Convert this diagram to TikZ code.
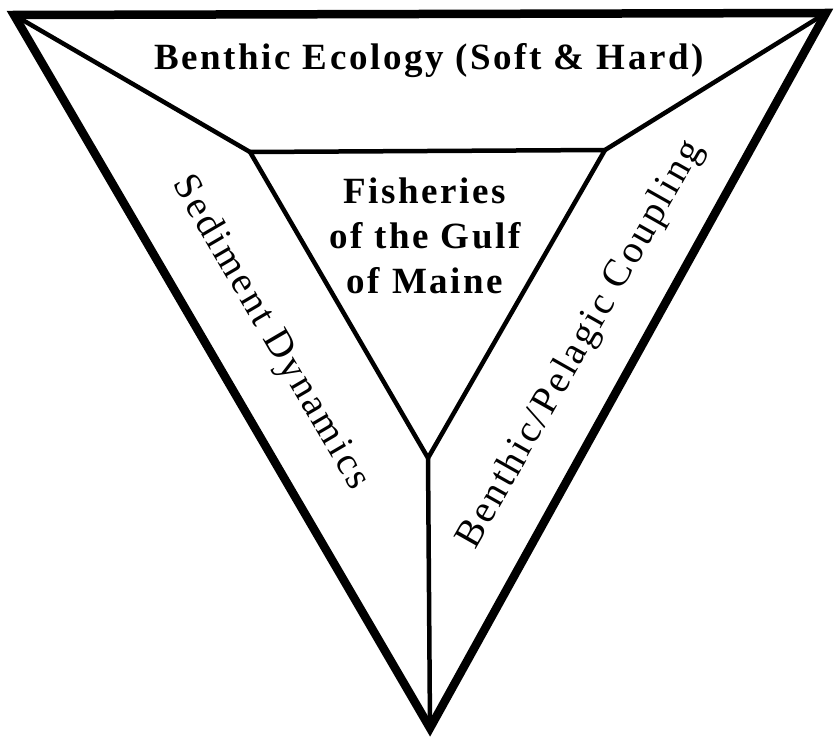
\documentclass[tikz,border=0pt]{standalone}
\usepackage{fontspec}
\setmainfont{Liberation Serif}
\newfontfamily\boxfont[LetterSpace=7]{Liberation Serif}
\usetikzlibrary{calc,positioning}
\tikzset{
  outerline/.style={line width=8.5pt, line join=miter, miter limit=20},
  innerline/.style={line width=4.5pt, line join=miter},
  headlabel/.style={font=\boxfont\bfseries\fontsize{37}{45}\selectfont, inner sep=0pt, align=center},
  sidelabel/.style={font=\boxfont\fontsize{39}{42}\selectfont, inner sep=0pt}
}
\begin{document}
\begin{tikzpicture}[x=1pt,y=-1pt]
\useasboundingbox (0,0) rectangle (837,738);
\coordinate (OL) at (14,15);
\coordinate (OR) at (826,13);
\coordinate (OB) at (430,728);
\coordinate (IL) at (250,152);
\coordinate (IR) at (605,150);
\coordinate (IB) at (428,458);
\draw[outerline] (OL) -- (OR) -- (OB) -- cycle;
\draw[innerline] (IL) -- (IR) -- (IB) -- cycle;
\draw[innerline] (OL) -- (IL);
\draw[innerline] (OR) -- (IR);
\draw[innerline] (OB) -- (IB);
\node[headlabel, anchor=base] (ecology) at (429,70) {Benthic Ecology (Soft \& Hard)};
\node[headlabel] (fisheries) at (425,236) {Fisheries\\of the Gulf\\of Maine};
\node[sidelabel, rotate=-59.7] (sediment) at (270,333) {Sediment Dynamics};
\node[sidelabel, rotate=60.5] (coupling) at (581,345) {Benthic/Pelagic Coupling};
\end{tikzpicture}
\end{document}
